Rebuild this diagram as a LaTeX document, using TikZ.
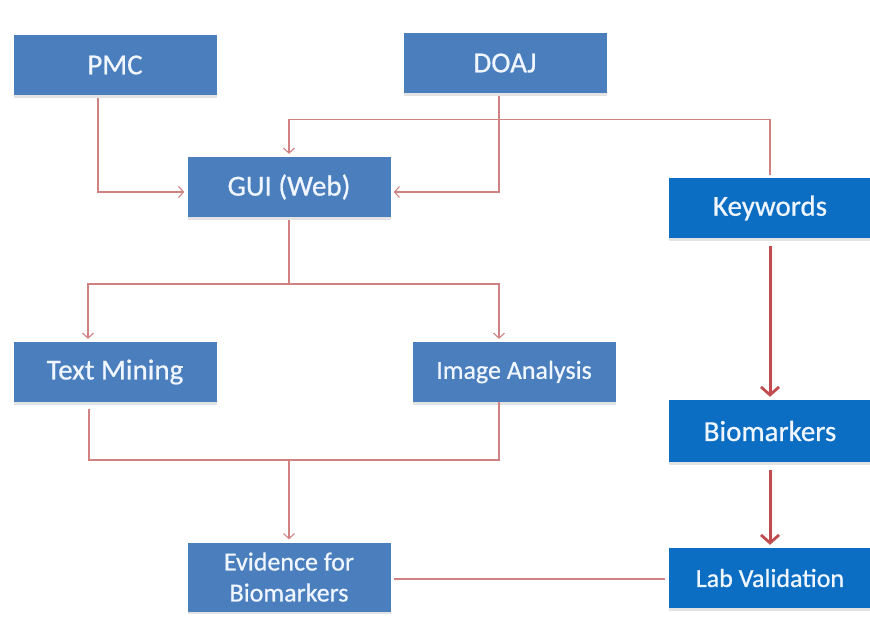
\documentclass[tikz,border=0pt]{standalone}
\usepackage{fontspec}
\setmainfont{Carlito}
\newfontfamily\boxfont{Carlito}[FakeBold=0.7]
\usetikzlibrary{arrows.meta,shadows}
\definecolor{leftblue}{RGB}{74,126,189}
\definecolor{rightblue}{RGB}{11,110,194}
\definecolor{thinred}{RGB}{208,130,130}
\definecolor{thickred}{RGB}{192,76,78}
\definecolor{boxtext}{RGB}{240,246,255}
\begin{document}
\begin{tikzpicture}[x=1pt,y=-1pt,
  box/.style={fill=leftblue, text=boxtext, minimum width=203pt, minimum height=60pt,
    inner sep=0pt, font=\boxfont\fontsize{29}{34}\selectfont,
    drop shadow={opacity=0.22, shadow xshift=0.5pt, shadow yshift=-2.5pt}},
  rbox/.style={box, fill=rightblue},
  smalltext/.style={font=\boxfont\fontsize{26}{31}\selectfont},
  conn/.style={draw=thinred, line width=1.2pt, shorten <=3pt},
  arr/.style={-{Straight Barb[length=5pt,width=11pt,line width=1.1pt]}, shorten >=3pt},
  bigarrow/.style={draw=thickred, line width=3pt, shorten <=8pt, shorten >=3pt,
    -{Straight Barb[length=8pt,width=18pt,line width=2.8pt]}}
]
\useasboundingbox (0,0) rectangle (870,616);

\node[box] (pmc) at (115,65) {PMC};
\node[box] (doaj) at (505,63) {DOAJ};
\node[box] (gui) at (289,187) {GUI (Web)};
\node[rbox] (kw) at (770,208) {Keywords};
\node[box] (tm) at (115,372) {Text Mining};
\node[box,smalltext] (ia) at (514,372) {Image Analysis};
\node[box,smalltext,minimum height=69pt,align=center] (ev) at (289,577) {Evidence for\\Biomarkers};
\node[rbox,minimum height=62pt] (bio) at (770,431) {Biomarkers};
\node[rbox,smalltext] (lab) at (770,578) {Lab Validation};

\coordinate (split) at (289,284);
\coordinate (merge) at (289,460);

\draw[conn,arr] ([xshift=-17pt]pmc.south) |- ([yshift=-5pt]gui.west);
\draw[conn,arr] ([xshift=-6pt]doaj.south) |- ([yshift=-5pt]gui.east);
\draw[conn,arr] (kw.north) -- ++(0,-58) -| (gui.north);
\draw[conn] (gui.south) -- (split);
\draw[conn,arr,shorten <=0pt] (split) -| ([xshift=-27pt]tm.north);
\draw[conn,arr,shorten <=0pt] (split) -| ([xshift=-15pt]ia.north);
\draw[conn,shorten <=7pt] ([xshift=-26pt]tm.south) |- (merge) -| ([xshift=-15pt]ia.south);
\draw[conn,arr,shorten <=0pt] (merge) -- (ev.north);
\draw[conn,shorten >=3pt] ([yshift=-2pt]ev.east) -- ([yshift=-2pt]ev.east -| lab.west);

\draw[bigarrow] (kw.south) -- (bio.north);
\draw[bigarrow] (bio.south) -- (lab.north);
\end{tikzpicture}
\end{document}
